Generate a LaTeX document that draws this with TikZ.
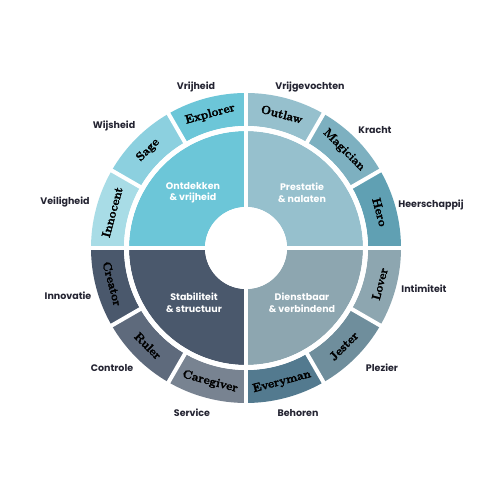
\documentclass[tikz,border=0pt]{standalone}
\usepackage{fontspec}
\newfontfamily\popfont{Poppins}
\newfontfamily\archfont{Latin Modern Roman}[FakeBold=2.2]
\definecolor{tlin}{RGB}{108,198,216}
\definecolor{innoc}{RGB}{168,220,230}
\definecolor{sage}{RGB}{140,208,223}
\definecolor{explo}{RGB}{108,198,216}
\definecolor{trin}{RGB}{150,192,205}
\definecolor{outl}{RGB}{150,192,205}
\definecolor{magic}{RGB}{125,176,192}
\definecolor{hero}{RGB}{96,160,179}
\definecolor{blin}{RGB}{74,88,108}
\definecolor{creat}{RGB}{74,88,108}
\definecolor{ruler}{RGB}{94,106,124}
\definecolor{careg}{RGB}{120,131,145}
\definecolor{brin}{RGB}{141,166,176}
\definecolor{lover}{RGB}{141,166,176}
\definecolor{jester}{RGB}{111,142,156}
\definecolor{every}{RGB}{83,122,143}
\definecolor{lbl}{RGB}{36,36,50}
\newcommand\sect[5]{\fill[#1] (#4:#3) arc[start angle=#4,end angle=#5,radius=#3] -- (#5:#2) arc[start angle=#5,end angle=#4,radius=#2] -- cycle;}
\tikzset{
  outer/.style={font=\popfont\bfseries\fontsize{9.5}{10}\selectfont, text=lbl, inner sep=0pt},
  quad/.style={font=\popfont\bfseries\fontsize{9.5}{11.5}\selectfont, text=white, align=center, inner sep=0pt},
  arch/.style={font=\archfont\bfseries\fontsize{12}{12}\selectfont, text=black, inner sep=0pt},
  gap/.style={draw=white, line width=4pt}
}
\begin{document}
\begin{tikzpicture}[x=1pt,y=1pt]
\useasboundingbox (0,0) rectangle (500,500);
\fill[white] (0,0) rectangle (500,500);
\begin{scope}[shift={(246,252)}]
  % inner quadrants
  \sect{tlin}{41}{117}{90}{180}
  \sect{trin}{41}{117}{0}{90}
  \sect{blin}{41}{117}{180}{270}
  \sect{brin}{41}{117}{270}{360}
  % ring
  \sect{innoc}{122}{155}{150}{180}
  \sect{sage}{122}{155}{120}{150}
  \sect{explo}{122}{155}{90}{120}
  \sect{outl}{122}{155}{60}{90}
  \sect{magic}{122}{155}{30}{60}
  \sect{hero}{122}{155}{0}{30}
  \sect{lover}{122}{155}{-30}{0}
  \sect{jester}{122}{155}{-60}{-30}
  \sect{every}{122}{155}{-90}{-60}
  \sect{careg}{122}{155}{-120}{-90}
  \sect{ruler}{122}{155}{-150}{-120}
  \sect{creat}{122}{155}{-180}{-150}
  % separators
  \coordinate (o) at (0,0);
  \draw[gap] (-160,0) -- (160,0);
  \draw[gap] (0,-160) -- (0,160);
  \foreach \a in {30,60,120,150,210,240,300,330}{
    \draw[gap] (\a:119) -- (\a:160);
  }
  \draw[white, line width=5pt] (o) circle[radius=119.5];
  \fill[white] (o) circle[radius=41];
  % ring labels
  \node[arch, rotate=75]  (innocent) at (165:138.5) {Innocent};
  \node[arch, rotate=45]  (sagel) at (135:138.5) {Sage};
  \node[arch, rotate=15]  (explorer) at (105:138.5) {Explorer};
  \node[arch, rotate=-15] (outlaw) at (75:138.5) {Outlaw};
  \node[arch, rotate=-45] (magician) at (45:138.5) {Magician};
  \node[arch, rotate=-75] (herol) at (15:138.5) {Hero};
  \node[arch, rotate=75]  (loverl) at (-15:138.5) {Lover};
  \node[arch, rotate=45]  (jesterl) at (-45:138.5) {Jester};
  \node[arch, rotate=15]  (everyman) at (-75:138.5) {Everyman};
  \node[arch, rotate=-15] (caregiver) at (-105:138.5) {Caregiver};
  \node[arch, rotate=-45] (rulerl) at (-135:138.5) {Ruler};
  \node[arch, rotate=-75] (creator) at (-165:138.5) {Creator};
  % quadrant labels
  \node[quad] (q1) at (-53,55) {Ontdekken\\\& vrijheid};
  \node[quad] (q2) at (56,55) {Prestatie\\\& nalaten};
  \node[quad] (q3) at (-52,-55) {Stabiliteit\\\& structuur};
  \node[quad] (q4) at (56,-55) {Dienstbaar\\\& verbindend};
\end{scope}
% outer labels
\node[outer] (vrijheid) at (196,413) {Vrijheid};
\node[outer] (wijsheid) at (114,374) {Wijsheid};
\node[outer] (veilig) at (65,298) {Veiligheid};
\node[outer] (vrijgev) at (310,413) {Vrijgevochten};
\node[outer] (kracht) at (375,370) {Kracht};
\node[outer] (heersch) at (431,295) {Heerschappij};
\node[outer] (innov) at (68,204) {Innovatie};
\node[outer] (contr) at (112,132) {Controle};
\node[outer] (serv) at (192,87) {Service};
\node[outer] (intim) at (424,211) {Intimiteit};
\node[outer] (plez) at (382,132) {Plezier};
\node[outer] (behoren) at (298,87) {Behoren};
\end{tikzpicture}
\end{document}
